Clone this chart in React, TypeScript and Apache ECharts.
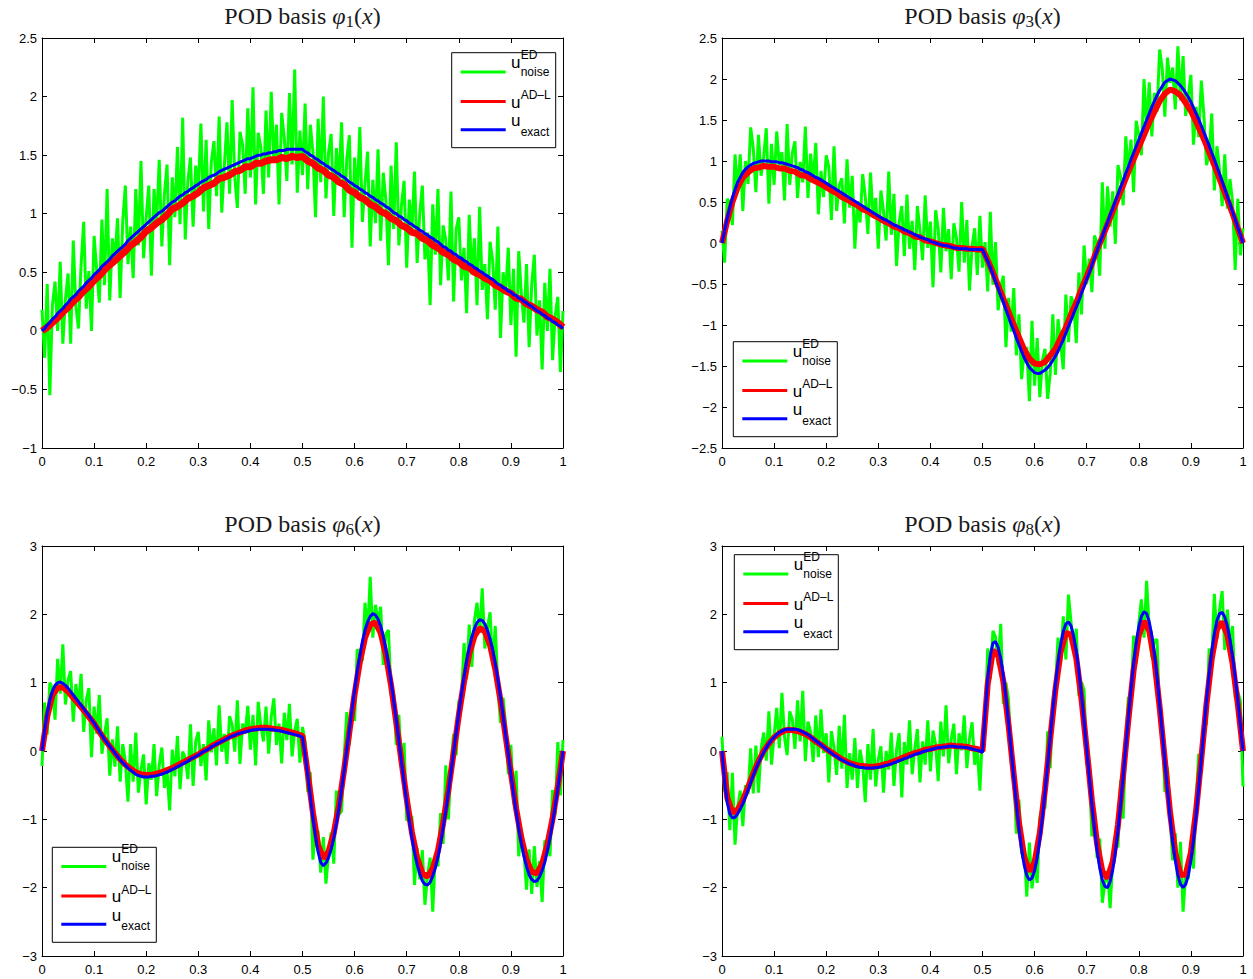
import React, { useEffect, useRef } from "react";
import * as echarts from "echarts";

// ---------- data (x sampled uniformly on [0,1]) ----------
const titleSubs = ["1", "3", "6", "8"];
const yRanges: [number, number, number][] = [
  [-1, 2.5, 0.5],
  [-2.5, 2.5, 0.5],
  [-3, 3, 1],
  [-3, 3, 1],
];

const noise1 = [
  0.18,-0.23,0.40,-0.55,0.22,0.42,0.00,0.59,-0.11,0.27,
  0.49,-0.11,0.77,0.21,0.02,0.56,0.93,0.19,0.51,0.00,
  0.81,0.52,0.24,0.95,0.39,1.21,0.26,0.79,0.61,0.96,
  0.28,0.94,1.24,0.57,0.89,0.45,1.21,0.73,1.45,0.62,
  0.97,1.24,0.47,1.21,0.91,1.46,0.72,1.17,1.42,0.56,
  1.31,0.97,1.57,0.91,1.82,0.78,1.28,1.48,0.89,1.41,
  1.19,1.77,1.02,1.63,0.87,1.44,1.62,1.15,1.83,1.01,
  1.41,1.78,1.17,1.97,1.31,1.05,1.70,1.59,1.17,1.90,
  1.31,2.08,1.08,1.69,1.57,1.17,1.88,1.31,2.04,1.44,
  1.76,1.08,1.86,1.65,1.28,2.03,1.42,2.23,1.18,1.71,
  1.33,1.94,1.21,1.76,1.53,0.97,1.81,1.27,2.00,1.13,
  1.52,1.68,0.98,1.56,1.27,1.78,0.97,1.47,1.67,0.71,
  1.48,1.13,1.74,0.93,1.26,1.53,0.72,1.29,0.92,1.55,
  0.77,1.35,1.12,0.56,1.41,0.87,1.61,0.73,1.07,1.28,
  0.54,1.12,0.86,1.36,0.58,1.00,1.24,0.61,0.84,0.22,
  1.08,0.65,1.21,0.39,0.90,0.78,0.43,1.19,0.25,0.87,
  0.97,0.43,0.71,0.15,0.99,0.48,0.79,0.22,1.06,0.35,
  0.57,0.10,0.76,0.60,0.18,0.89,-0.06,0.50,0.33,0.71,
  0.05,0.53,-0.22,0.68,0.32,0.07,0.57,-0.14,0.40,0.65,
  -0.04,0.26,-0.33,0.41,0.00,0.53,-0.25,0.13,0.29,-0.35,
  0.17,
];
const exact1 = [
  0.00,0.02,0.05,0.07,0.10,0.12,0.15,0.17,0.19,0.22,
  0.24,0.27,0.29,0.31,0.34,0.36,0.38,0.41,0.43,0.45,
  0.48,0.50,0.52,0.55,0.57,0.59,0.61,0.64,0.66,0.68,
  0.70,0.72,0.74,0.77,0.79,0.81,0.83,0.85,0.87,0.89,
  0.91,0.93,0.95,0.97,0.99,1.01,1.02,1.04,1.06,1.08,
  1.10,1.11,1.13,1.15,1.16,1.18,1.19,1.21,1.22,1.24,
  1.25,1.27,1.28,1.29,1.31,1.32,1.33,1.34,1.36,1.37,
  1.38,1.39,1.40,1.41,1.42,1.43,1.44,1.45,1.46,1.47,
  1.47,1.48,1.49,1.50,1.50,1.51,1.51,1.52,1.52,1.53,
  1.53,1.54,1.54,1.54,1.55,1.55,1.55,1.55,1.55,1.55,
  1.55,1.53,1.52,1.50,1.49,1.47,1.46,1.44,1.43,1.41,
  1.40,1.38,1.37,1.35,1.34,1.32,1.31,1.29,1.27,1.26,
  1.24,1.23,1.21,1.20,1.18,1.17,1.15,1.14,1.12,1.11,
  1.09,1.08,1.06,1.05,1.03,1.01,1.00,0.98,0.97,0.95,
  0.94,0.92,0.91,0.89,0.88,0.86,0.85,0.83,0.82,0.80,
  0.79,0.77,0.76,0.74,0.72,0.71,0.69,0.68,0.66,0.65,
  0.63,0.62,0.60,0.59,0.57,0.56,0.54,0.53,0.51,0.50,
  0.48,0.47,0.45,0.44,0.42,0.40,0.39,0.37,0.36,0.34,
  0.33,0.31,0.30,0.28,0.27,0.25,0.24,0.22,0.21,0.19,
  0.17,0.16,0.14,0.13,0.11,0.10,0.08,0.07,0.05,0.04,
  0.02,
];
const adl1 = [
  0.00,0.03,0.07,0.11,0.16,0.20,0.25,0.29,0.34,0.38,
  0.43,0.47,0.52,0.56,0.60,0.64,0.68,0.73,0.76,0.80,
  0.85,0.88,0.92,0.95,0.99,1.04,1.06,1.09,1.13,1.15,
  1.18,1.22,1.24,1.26,1.30,1.31,1.33,1.36,1.37,1.40,
  1.40,1.43,1.43,1.45,1.46,1.46,1.48,1.47,1.49,1.48,
  1.49,1.45,1.43,1.39,1.37,1.33,1.31,1.27,1.25,1.20,
  1.18,1.14,1.12,1.08,1.06,1.02,1.00,0.96,0.94,0.90,
  0.88,0.84,0.83,0.79,0.77,0.73,0.71,0.67,0.65,0.61,
  0.59,0.55,0.54,0.50,0.48,0.45,0.43,0.39,0.37,0.34,
  0.32,0.28,0.27,0.23,0.21,0.18,0.16,0.12,0.10,0.07,
  0.03,
];

const noise2 = [
  0.15,-0.24,0.54,0.49,0.22,1.08,0.63,1.08,0.39,1.00,
  0.72,1.41,1.16,0.62,1.32,0.82,1.05,1.40,0.48,1.21,
  0.71,1.36,0.95,1.11,0.52,1.45,0.71,1.10,1.24,0.55,
  0.99,0.74,1.42,0.55,1.09,0.74,1.22,0.35,0.88,0.56,
  1.07,0.93,0.28,1.18,0.39,0.70,0.79,0.24,1.02,0.43,
  0.82,-0.07,0.51,0.25,0.84,0.57,0.11,0.86,0.32,0.55,
  -0.07,0.64,0.39,0.03,0.87,0.10,0.60,-0.28,0.25,0.45,
  -0.16,0.59,-0.07,0.27,-0.33,0.45,0.15,-0.21,0.58,-0.06,
  0.26,-0.54,0.40,0.17,-0.36,0.43,-0.10,0.17,-0.44,0.24,
  0.06,-0.35,0.50,-0.24,0.28,-0.58,-0.04,0.18,-0.39,0.33,
  -0.30,0.01,-0.59,0.38,-0.51,0.01,-0.82,-0.53,-0.40,-1.27,
  -0.67,-1.08,-0.55,-1.37,-0.87,-1.66,-1.33,-1.27,-1.93,-0.95,
  -1.74,-1.16,-1.88,-1.43,-1.29,-1.90,-1.59,-0.87,-1.61,-0.93,
  -1.22,-1.54,-0.63,-1.21,-0.65,-0.74,-1.22,-0.36,-0.87,-0.03,
  -0.50,-0.19,-0.60,0.09,0.00,-0.40,0.74,-0.07,0.69,0.20,
  0.63,-0.01,0.95,0.81,0.46,1.30,0.85,1.26,0.62,1.49,
  1.32,1.07,2.00,1.38,1.96,1.30,1.83,1.60,2.36,2.13,
  1.54,2.26,1.95,2.14,1.63,2.40,1.74,2.28,1.55,1.80,
  2.05,1.20,1.66,1.29,1.98,1.55,0.95,1.09,1.58,0.64,
  1.18,0.89,0.45,1.08,0.42,0.78,0.50,-0.33,0.54,-0.15,
  0.18,
];
const exact2 = [
  0.00,0.15,0.30,0.43,0.55,0.65,0.74,0.80,0.86,0.90,
  0.93,0.95,0.97,0.98,0.99,1.00,1.00,1.00,1.00,0.99,
  0.99,0.99,0.98,0.98,0.97,0.96,0.95,0.94,0.93,0.92,
  0.90,0.89,0.87,0.86,0.84,0.82,0.80,0.79,0.77,0.75,
  0.73,0.71,0.69,0.67,0.65,0.63,0.61,0.59,0.57,0.55,
  0.53,0.51,0.49,0.47,0.45,0.43,0.41,0.39,0.37,0.35,
  0.33,0.31,0.29,0.28,0.26,0.24,0.22,0.21,0.19,0.18,
  0.16,0.15,0.13,0.12,0.10,0.09,0.07,0.06,0.05,0.04,
  0.02,0.01,0.00,-0.01,-0.02,-0.03,-0.03,-0.04,-0.05,-0.06,
  -0.06,-0.07,-0.07,-0.07,-0.07,-0.08,-0.08,-0.08,-0.08,-0.08,
  -0.08,-0.15,-0.22,-0.30,-0.38,-0.47,-0.55,-0.64,-0.72,-0.81,
  -0.90,-0.99,-1.07,-1.16,-1.24,-1.32,-1.40,-1.46,-1.52,-1.55,
  -1.58,-1.59,-1.59,-1.57,-1.55,-1.52,-1.48,-1.43,-1.38,-1.32,
  -1.25,-1.18,-1.10,-1.02,-0.94,-0.86,-0.78,-0.70,-0.61,-0.53,
  -0.44,-0.36,-0.27,-0.18,-0.09,0.00,0.08,0.17,0.25,0.34,
  0.42,0.51,0.59,0.68,0.76,0.85,0.93,1.02,1.10,1.18,
  1.26,1.34,1.42,1.50,1.58,1.66,1.73,1.80,1.86,1.91,
  1.96,1.98,2.00,1.99,1.98,1.95,1.92,1.88,1.83,1.78,
  1.72,1.65,1.58,1.51,1.43,1.35,1.27,1.19,1.10,1.02,
  0.93,0.84,0.75,0.66,0.57,0.48,0.38,0.29,0.19,0.10,
  0.00,
];
const adl2 = [
  0.00,0.27,0.50,0.68,0.80,0.86,0.91,0.92,0.94,0.93,
  0.93,0.91,0.91,0.88,0.87,0.83,0.82,0.78,0.75,0.72,
  0.68,0.64,0.61,0.56,0.53,0.49,0.46,0.41,0.39,0.34,
  0.31,0.27,0.24,0.20,0.18,0.14,0.12,0.08,0.07,0.03,
  0.02,0.00,-0.02,-0.03,-0.04,-0.06,-0.06,-0.07,-0.07,-0.08,
  -0.07,-0.21,-0.36,-0.52,-0.68,-0.84,-1.00,-1.15,-1.30,-1.41,
  -1.47,-1.48,-1.45,-1.37,-1.29,-1.16,-1.03,-0.87,-0.73,-0.56,
  -0.41,-0.25,-0.08,0.07,0.23,0.39,0.55,0.71,0.87,1.02,
  1.17,1.32,1.47,1.60,1.73,1.82,1.87,1.85,1.80,1.71,
  1.61,1.48,1.34,1.19,1.03,0.87,0.70,0.53,0.36,0.18,
  0.00,
];

const noise3 = [
  -0.22,0.71,0.24,1.00,0.92,0.46,1.35,0.84,1.56,0.68,
  1.04,1.17,0.43,0.98,0.65,1.13,0.28,0.75,0.92,-0.09,
  0.65,0.25,0.82,-0.04,0.25,0.48,-0.36,0.17,-0.23,0.36,
  -0.45,0.10,-0.15,-0.74,0.10,-0.45,0.27,-0.61,-0.27,-0.05,
  -0.78,-0.18,-0.42,0.10,-0.66,-0.21,0.05,-0.54,-0.29,-0.87,
  0.02,-0.37,0.22,-0.56,-0.01,-0.10,-0.41,0.39,-0.51,0.14,
  0.28,-0.22,0.10,-0.43,0.45,-0.02,0.33,-0.21,0.67,-0.01,
  0.25,-0.19,0.51,0.38,-0.01,0.74,-0.19,0.40,0.25,0.66,
  0.02,0.53,-0.21,0.72,0.37,0.14,0.65,-0.04,0.50,0.77,
  0.09,0.40,-0.18,0.56,0.16,0.69,-0.08,0.30,0.47,-0.17,
  0.35,0.13,-0.60,-0.31,-1.59,-1.13,-1.18,-1.78,-1.26,-1.94,
  -1.51,-1.19,-1.65,-0.58,-0.93,-0.88,-0.08,0.57,0.09,0.69,
  0.44,1.49,1.41,1.32,2.17,1.71,2.55,1.66,2.14,1.88,
  2.11,1.26,1.71,1.77,0.82,0.84,0.09,0.53,-0.28,0.12,
  -1.02,-0.96,-0.96,-1.96,-1.42,-1.88,-1.45,-2.25,-1.83,-1.56,
  -2.35,-1.50,-1.69,-0.91,-1.36,-0.21,-1.00,-0.22,0.25,-0.06,
  0.73,0.77,1.58,1.05,1.85,1.23,1.91,2.17,1.73,2.38,
  1.50,1.80,2.03,1.25,1.83,0.94,0.41,0.78,0.37,-0.34,
  0.09,-0.78,-0.29,-1.54,-1.16,-1.47,-2.03,-1.44,-2.09,-1.39,
  -1.99,-1.61,-2.21,-1.31,-1.35,-1.54,-0.57,-0.94,0.13,-0.65,
  0.16,
];
const exact3 = [
  0.00,0.30,0.55,0.74,0.88,0.96,1.00,1.01,0.99,0.96,
  0.92,0.87,0.82,0.77,0.72,0.67,0.62,0.57,0.52,0.46,
  0.41,0.35,0.29,0.23,0.17,0.12,0.07,0.02,-0.03,-0.08,
  -0.13,-0.17,-0.21,-0.25,-0.28,-0.31,-0.34,-0.36,-0.37,-0.38,
  -0.38,-0.38,-0.37,-0.37,-0.36,-0.35,-0.34,-0.32,-0.31,-0.29,
  -0.27,-0.25,-0.23,-0.21,-0.19,-0.17,-0.15,-0.12,-0.10,-0.08,
  -0.06,-0.03,-0.01,0.01,0.03,0.06,0.08,0.10,0.12,0.14,
  0.16,0.18,0.20,0.22,0.23,0.25,0.26,0.27,0.28,0.29,
  0.30,0.31,0.31,0.32,0.32,0.32,0.32,0.32,0.31,0.31,
  0.30,0.30,0.29,0.28,0.27,0.26,0.25,0.24,0.23,0.22,
  0.20,-0.05,-0.35,-0.66,-0.97,-1.25,-1.48,-1.63,-1.68,-1.64,
  -1.56,-1.44,-1.27,-1.06,-0.83,-0.56,-0.28,0.02,0.31,0.61,
  0.89,1.16,1.39,1.60,1.77,1.89,1.97,2.01,1.99,1.93,
  1.83,1.68,1.49,1.27,1.02,0.74,0.45,0.15,-0.16,-0.46,
  -0.75,-1.02,-1.27,-1.48,-1.66,-1.80,-1.90,-1.95,-1.96,-1.92,
  -1.83,-1.71,-1.55,-1.35,-1.12,-0.87,-0.60,-0.31,-0.02,0.27,
  0.56,0.83,1.08,1.31,1.51,1.67,1.79,1.88,1.92,1.91,
  1.86,1.77,1.64,1.48,1.27,1.05,0.79,0.52,0.23,-0.05,
  -0.34,-0.62,-0.89,-1.13,-1.35,-1.54,-1.69,-1.81,-1.88,-1.91,
  -1.90,-1.84,-1.75,-1.63,-1.46,-1.27,-1.05,-0.81,-0.55,-0.28,
  0.00,
];
const adl3 = [
  0.00,0.50,0.82,0.93,0.93,0.87,0.78,0.69,0.60,0.50,
  0.40,0.28,0.17,0.07,-0.03,-0.12,-0.20,-0.26,-0.31,-0.34,
  -0.35,-0.35,-0.33,-0.31,-0.28,-0.25,-0.21,-0.17,-0.13,-0.09,
  -0.05,0.00,0.04,0.09,0.13,0.17,0.21,0.24,0.27,0.30,
  0.32,0.33,0.34,0.34,0.33,0.32,0.31,0.29,0.27,0.25,
  0.22,-0.32,-0.90,-1.38,-1.57,-1.47,-1.20,-0.79,-0.27,0.28,
  0.83,1.30,1.66,1.85,1.88,1.73,1.41,0.96,0.42,-0.15,
  -0.70,-1.19,-1.56,-1.79,-1.84,-1.72,-1.46,-1.05,-0.57,-0.03,
  0.52,1.01,1.42,1.68,1.80,1.75,1.55,1.20,0.74,0.21,
  -0.32,-0.84,-1.27,-1.59,-1.77,-1.79,-1.65,-1.37,-0.99,-0.52,
  0.00,
];

const noise4 = [
  0.21,-0.59,-0.31,-1.16,-0.32,-1.37,-0.83,-0.58,-1.10,-0.50,
  -0.63,0.04,-0.62,0.08,-0.61,0.03,0.27,-0.14,0.58,-0.20,
  0.23,0.63,0.04,0.85,0.20,-0.06,0.58,0.46,0.03,0.74,
  0.14,0.88,-0.15,0.43,0.28,-0.16,0.52,-0.09,0.61,-0.03,
  0.26,-0.46,0.29,0.05,-0.35,0.37,-0.26,0.53,-0.54,-0.03,
  -0.42,0.19,-0.54,0.02,-0.20,-0.75,0.10,-0.42,0.32,-0.52,
  -0.12,0.07,-0.61,0.00,-0.27,0.27,-0.51,0.02,0.26,-0.68,
  0.13,-0.20,0.45,-0.34,0.03,0.32,-0.46,0.14,-0.20,0.45,
  -0.30,0.30,0.10,-0.44,0.43,-0.08,0.67,-0.18,0.17,0.40,
  -0.34,0.26,0.01,0.52,-0.25,0.18,0.42,-0.20,0.03,-0.58,
  0.27,0.43,1.50,1.05,1.76,1.67,1.26,1.86,0.69,1.00,
  0.75,-0.17,-0.27,-1.21,-0.71,-1.51,-1.42,-2.13,-1.34,-2.01,
  -1.66,-1.93,-0.98,-0.81,-0.84,0.29,-0.25,0.73,0.94,1.66,
  1.28,1.97,1.34,2.29,1.88,1.50,1.79,0.81,1.01,0.89,
  -0.18,-0.28,-1.25,-0.86,-1.57,-1.28,-2.22,-1.92,-1.76,-2.30,
  -1.59,-1.30,-1.41,-0.43,-0.99,0.18,0.79,0.75,1.69,1.28,
  1.87,2.22,1.66,2.49,1.79,1.37,1.62,1.63,0.47,0.36,
  -0.60,-0.24,-0.95,-1.60,-1.20,-2.00,-1.33,-2.35,-1.80,-1.87,
  -1.32,-1.72,-0.72,-0.04,-0.32,0.42,0.38,1.50,1.33,2.30,
  1.64,2.07,2.34,1.48,2.07,1.55,1.83,0.78,0.87,0.74,
  -0.52,
];
const exact4 = [
  0.00,-0.45,-0.75,-0.92,-0.98,-0.97,-0.92,-0.85,-0.77,-0.67,
  -0.57,-0.46,-0.36,-0.26,-0.17,-0.09,-0.02,0.05,0.11,0.16,
  0.20,0.24,0.27,0.29,0.31,0.32,0.32,0.32,0.32,0.31,
  0.30,0.28,0.26,0.24,0.21,0.18,0.15,0.12,0.09,0.06,
  0.03,0.00,-0.03,-0.06,-0.08,-0.11,-0.13,-0.15,-0.17,-0.19,
  -0.20,-0.22,-0.23,-0.24,-0.24,-0.25,-0.25,-0.25,-0.25,-0.24,
  -0.24,-0.23,-0.22,-0.21,-0.20,-0.19,-0.17,-0.16,-0.14,-0.13,
  -0.11,-0.10,-0.08,-0.07,-0.05,-0.04,-0.03,-0.01,0.00,0.01,
  0.02,0.03,0.04,0.05,0.05,0.06,0.06,0.07,0.07,0.07,
  0.06,0.06,0.06,0.05,0.05,0.04,0.03,0.02,0.01,0.00,
  -0.02,0.55,1.05,1.40,1.58,1.60,1.52,1.35,1.10,0.78,
  0.41,0.02,-0.38,-0.77,-1.13,-1.43,-1.67,-1.82,-1.89,-1.86,
  -1.75,-1.56,-1.29,-0.97,-0.60,-0.20,0.20,0.60,0.97,1.29,
  1.56,1.75,1.86,1.89,1.83,1.68,1.46,1.17,0.82,0.43,
  0.03,-0.38,-0.78,-1.14,-1.46,-1.71,-1.89,-1.98,-2.00,-1.91,
  -1.74,-1.48,-1.16,-0.78,-0.37,0.06,0.49,0.90,1.27,1.58,
  1.82,1.97,2.04,2.01,1.89,1.69,1.42,1.08,0.69,0.28,
  -0.15,-0.57,-0.97,-1.32,-1.60,-1.82,-1.95,-2.00,-1.95,-1.82,
  -1.60,-1.30,-0.94,-0.54,-0.12,0.32,0.74,1.12,1.45,1.72,
  1.91,2.01,2.03,1.96,1.83,1.63,1.38,1.08,0.74,0.38,
  0.00,
];
const adl4 = [
  0.00,-0.68,-0.90,-0.86,-0.72,-0.53,-0.33,-0.15,0.00,0.11,
  0.20,0.26,0.30,0.31,0.30,0.28,0.25,0.20,0.14,0.09,
  0.03,-0.02,-0.07,-0.12,-0.16,-0.19,-0.21,-0.22,-0.23,-0.23,
  -0.22,-0.20,-0.18,-0.15,-0.12,-0.09,-0.06,-0.03,-0.01,0.02,
  0.03,0.05,0.06,0.07,0.08,0.07,0.07,0.06,0.04,0.03,
  0.00,0.98,1.47,1.41,1.02,0.38,-0.35,-1.05,-1.55,-1.76,
  -1.63,-1.20,-0.56,0.18,0.90,1.45,1.73,1.70,1.36,0.76,
  0.03,-0.73,-1.36,-1.76,-1.86,-1.62,-1.08,-0.34,0.46,1.18,
  1.69,1.90,1.76,1.32,0.64,-0.14,-0.90,-1.49,-1.81,-1.81,
  -1.49,-0.87,-0.11,0.69,1.35,1.78,1.89,1.70,1.28,0.69,
  0.00,
];

const panels = [
  { noise: noise1, adl: adl1, exact: exact1 },
  { noise: noise2, adl: adl2, exact: exact2 },
  { noise: noise3, adl: adl3, exact: exact3 },
  { noise: noise4, adl: adl4, exact: exact4 },
];

// ---------- layout ----------
const GRID_POS = [
  { left: 42, top: 38 },
  { left: 722, top: 38 },
  { left: 42, top: 546 },
  { left: 722, top: 546 },
];
const GW = 521;
const GH = 410;
const LEGEND_POS: [number, number][] = [
  [451.7, 52.7],
  [733.3, 341.7],
  [52.3, 847.3],
  [734.3, 554.7],
];
const RED_WIDTH = [7, 6, 6, 6];

const GREEN = "#00ff00";
const RED = "#ff0000";
const BLUE = "#0000ff";

const toPairs = (arr: number[]) => arr.map((v, i) => [i / (arr.length - 1), v]);
const fmt = (v: number) => {
  const s = String(Math.round(v * 100) / 100);
  return s.replace("-", "\u2212");
};

function buildOption() {
  const grid: any[] = [];
  const xAxis: any[] = [];
  const yAxis: any[] = [];
  const series: any[] = [];
  const graphic: any[] = [];

  const axisLine = { show: true, onZero: false, lineStyle: { color: "#000", width: 1 } };
  const axisTick = { show: true, inside: true, length: 5, lineStyle: { color: "#000", width: 1 } };
  const labelStyle = { color: "#000", fontFamily: "Liberation Sans", fontSize: 13 };

  panels.forEach((p, k) => {
    const g = GRID_POS[k];
    grid.push({ left: g.left, top: g.top, width: GW, height: GH, containLabel: false });
    const [ymin, ymax, yint] = yRanges[k];
    xAxis.push({
      type: "value", gridIndex: k, position: "bottom", min: 0, max: 1, interval: 0.1,
      axisLine, axisTick, splitLine: { show: false },
      axisLabel: { ...labelStyle, margin: 7, formatter: fmt, showMinLabel: true, showMaxLabel: true },
    });
    xAxis.push({
      type: "value", gridIndex: k, position: "top", min: 0, max: 1, interval: 0.1,
      axisLine, axisTick, splitLine: { show: false }, axisLabel: { show: false },
    });
    yAxis.push({
      type: "value", gridIndex: k, position: "left", min: ymin, max: ymax, interval: yint,
      axisLine, axisTick, splitLine: { show: false },
      axisLabel: { ...labelStyle, margin: 5, formatter: fmt, showMinLabel: true, showMaxLabel: true },
    });
    yAxis.push({
      type: "value", gridIndex: k, position: "right", min: ymin, max: ymax, interval: yint,
      axisLine, axisTick, splitLine: { show: false }, axisLabel: { show: false },
    });

    const common = {
      type: "line", xAxisIndex: 2 * k, yAxisIndex: 2 * k, showSymbol: false, symbol: "none",
      silent: true, clip: true, emphasis: { disabled: true },
    };
    series.push({ ...common, name: `noise${k}`, data: toPairs(p.noise), lineStyle: { color: GREEN, width: 3 } });
    series.push({ ...common, name: `adl${k}`, data: toPairs(p.adl), lineStyle: { color: RED, width: RED_WIDTH[k] } });
    series.push({ ...common, name: `exact${k}`, data: toPairs(p.exact), lineStyle: { color: BLUE, width: 3 } });

    const serif = "Liberation Serif";
    graphic.push({
      type: "text", z: 100, x: g.left + GW / 2, y: g.top - 22,
      style: {
        text: `{a|POD basis }{i|\u03c6}{s|${titleSubs[k]}}{a|(}{i|x}{a|)}`,
        align: "center", verticalAlign: "middle",
        rich: {
          a: { fontFamily: serif, fontSize: 24, lineHeight: 28, fill: "#1a1a1a", verticalAlign: "middle" },
          i: { fontFamily: serif, fontSize: 24, lineHeight: 28, fill: "#1a1a1a", fontStyle: "italic", verticalAlign: "middle" },
          s: { fontFamily: serif, fontSize: 17, lineHeight: 18, fill: "#1a1a1a", verticalAlign: "bottom" },
        },
      },
    });

    const [bx, by] = LEGEND_POS[k];
    graphic.push({
      type: "rect", z: 100, shape: { x: bx, y: by, width: 104, height: 95 },
      style: { fill: "#fff", stroke: "#000", lineWidth: 1 },
    });
    const ly = [19.3, 48.8, 77];
    [GREEN, RED, BLUE].forEach((c, j) => {
      graphic.push({
        type: "line", z: 101, shape: { x1: bx + 9, y1: by + ly[j], x2: bx + 54, y2: by + ly[j] },
        style: { stroke: c, lineWidth: 3 },
      });
    });
    const sans = "Liberation Sans";
    const uY = [9.4, 49.6, 68.2];
    uY.forEach((dy) => {
      graphic.push({
        type: "text", z: 102, x: bx + 59.4, y: by + dy,
        style: { text: "u", fontFamily: sans, fontSize: 17, fill: "#000", align: "left", verticalAlign: "middle" },
      });
    });
    const small: [string, number][] = [["ED", 2], ["noise", 18.8], ["AD\u2013L", 42.5], ["exact", 79]];
    small.forEach(([t, dy]) => {
      graphic.push({
        type: "text", z: 102, x: bx + 69, y: by + dy,
        style: { text: t, fontFamily: sans, fontSize: 12, fill: "#000", align: "left", verticalAlign: "middle" },
      });
    });
  });

  return { animation: false, backgroundColor: "#fff", grid, xAxis, yAxis, series, graphic };
}

export default function App() {
  const ref = useRef<HTMLDivElement>(null);
  useEffect(() => {
    if (!ref.current) return;
    const chart = echarts.init(ref.current, undefined, { renderer: "svg" });
    chart.setOption(buildOption() as any);
    return () => chart.dispose();
  }, []);
  return (
    <div
      ref={ref}
      style={{ position: "absolute", left: 0, top: 0, width: 1253, height: 979, background: "#fff" }}
    />
  );
}
